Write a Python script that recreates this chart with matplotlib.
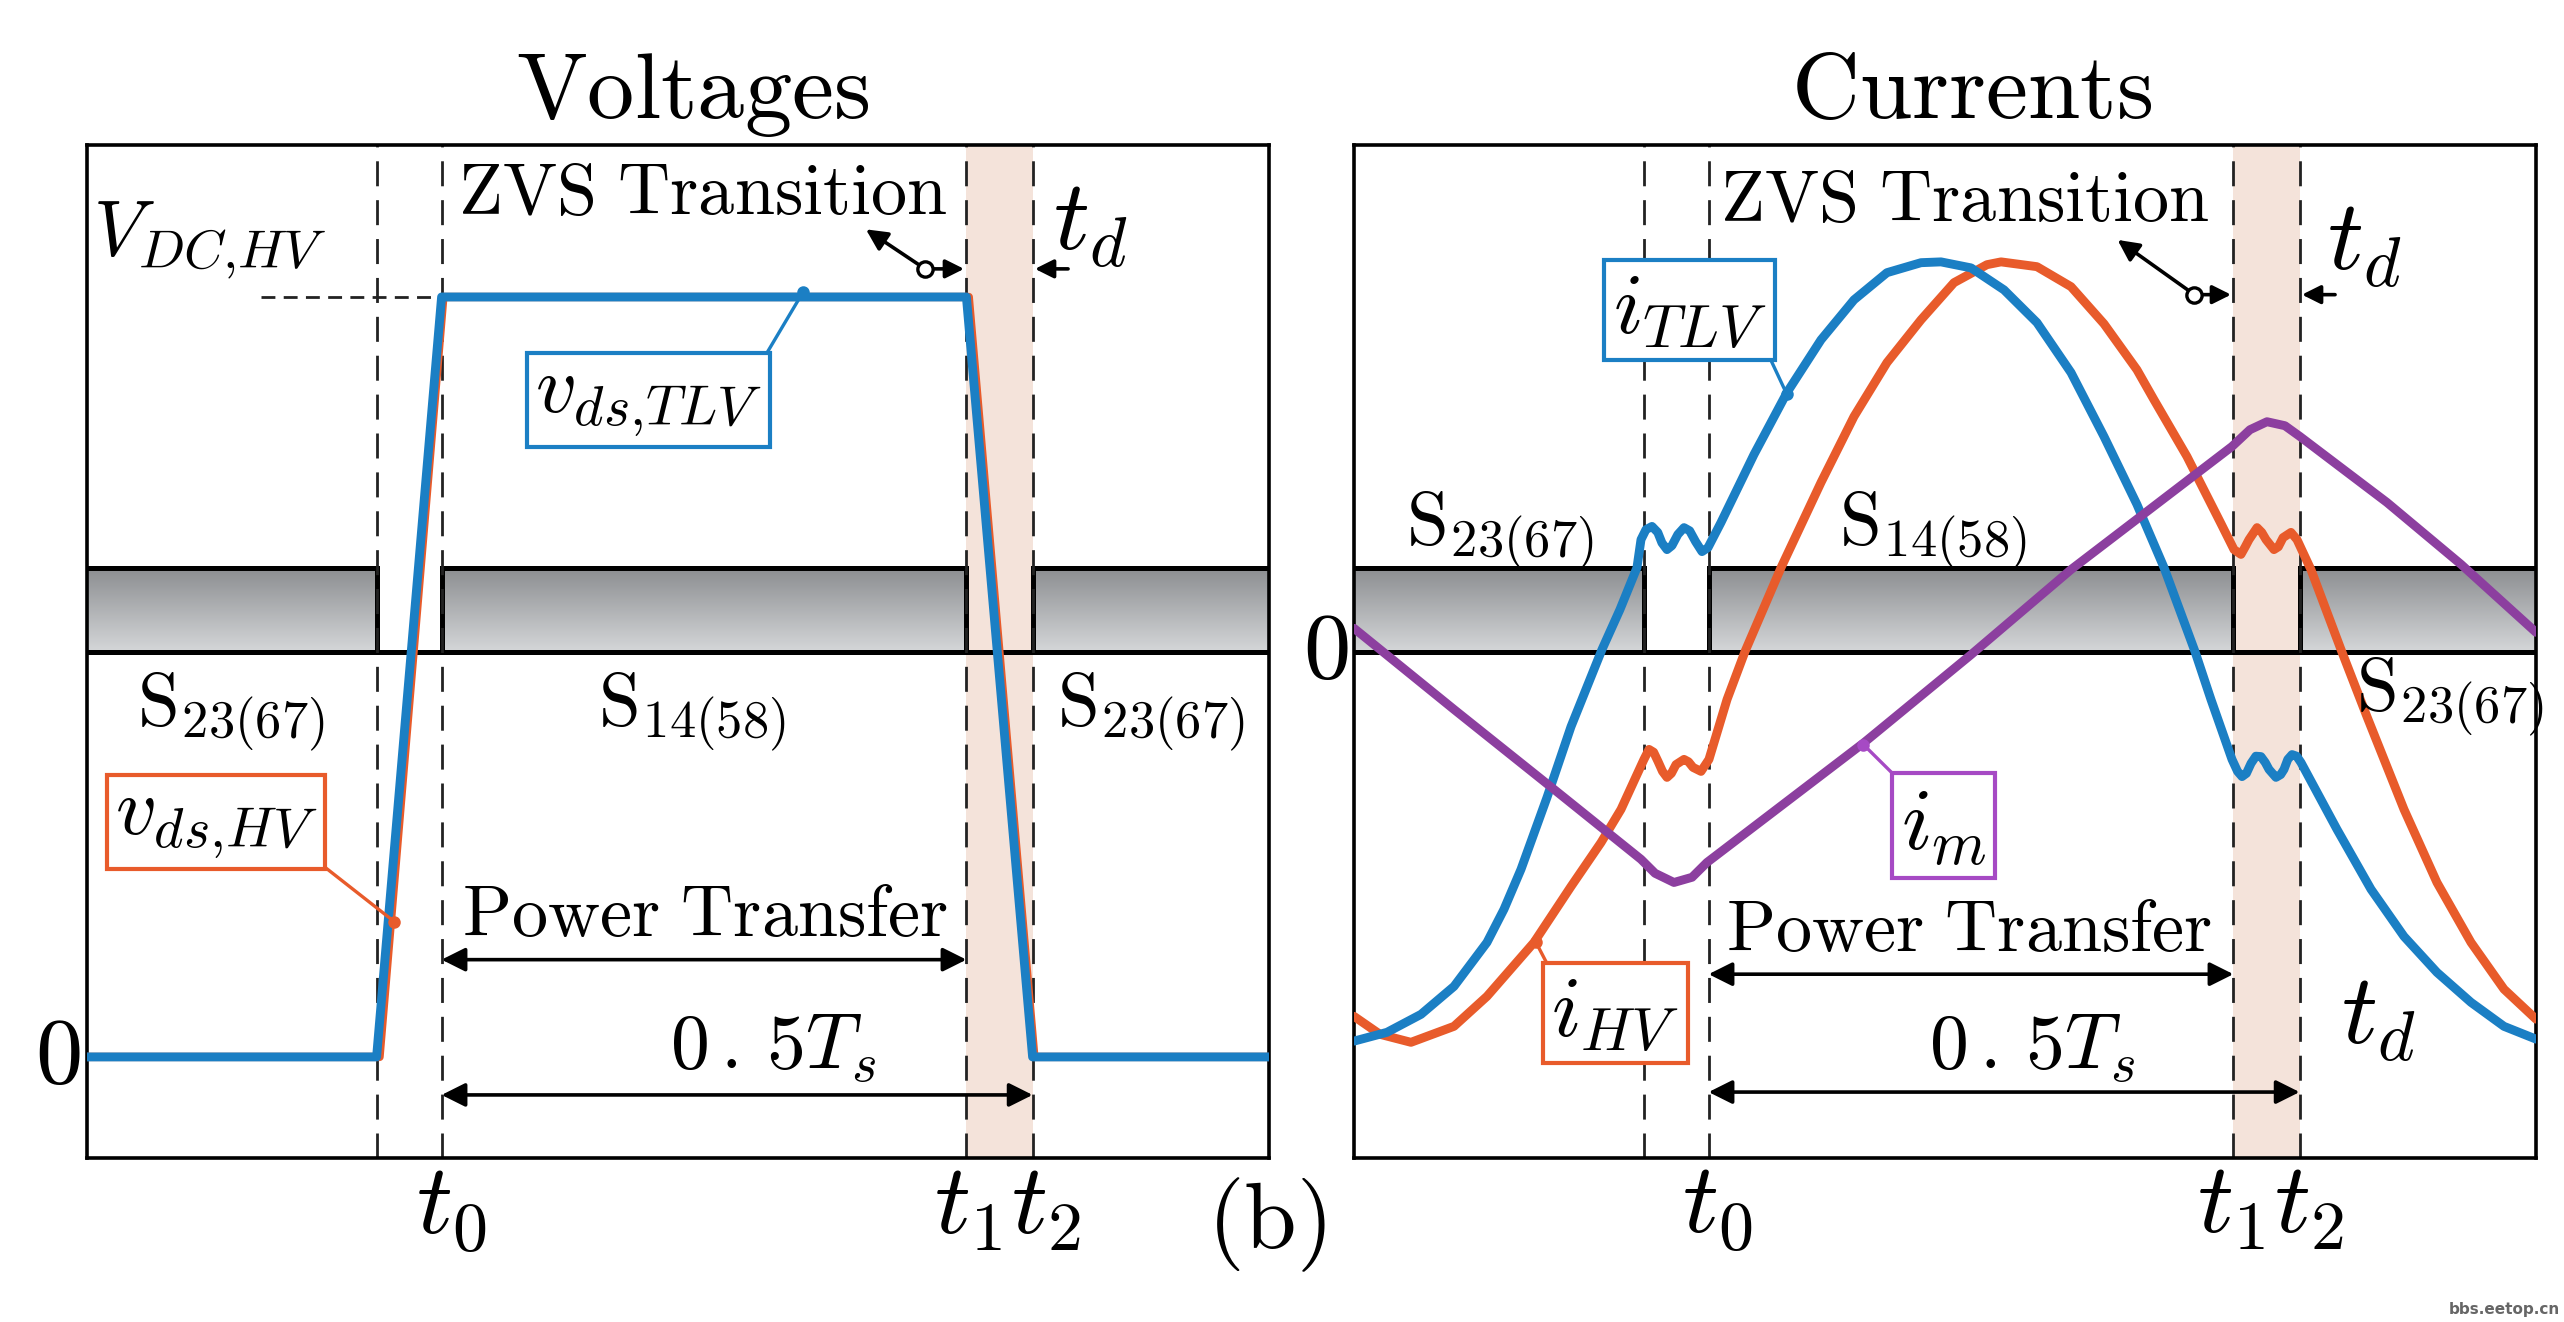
import numpy as np
import matplotlib
matplotlib.use('Agg')
import matplotlib.pyplot as plt
from matplotlib.colors import LinearSegmentedColormap

plt.rcParams['mathtext.fontset'] = 'cm'
plt.rcParams['font.family'] = ['DejaVu Sans']

# ---------------- data (time in % of the shown window) ----------------
t_edges = [24.5, 30.0, 74.4, 80.0]          # end of S23 on, t0, t1, t2
gate_on = [(0.0, 24.5), (30.0, 74.4), (80.0, 100.0)]

# voltages (p.u. of V_DC,HV)
v_dc = 1.0
v_tlv_t = [0, 24.5, 30.0, 74.4, 80.0, 100]
v_tlv = [0, 0, 1, 1, 0, 0]
v_hv_t = [0, 24.75, 30.15, 74.6, 80.15, 100]
v_hv = [0, 0, 1, 1, 0, 0]

# currents (p.u.)
i_tlv_t = [0, 2.79, 5.67, 8.46, 11.25, 12.69, 14.13, 16.33, 18.36, 20.98, 22.50,
           23.94, 24.28, 24.70, 25.21, 25.70, 26.05, 26.48, 26.90, 27.40, 27.92,
           28.40, 28.90, 29.44, 29.95, 31.05, 33.84, 36.63, 39.51, 42.30, 45.09,
           47.97, 49.66, 52.20, 54.99, 57.78, 60.66, 63.45, 66.24, 68.53, 71.15,
           72.50, 74.28, 74.75, 75.13, 75.50, 75.89, 76.30, 76.73, 77.10, 77.41,
           78.00, 78.40, 78.68, 79.00, 79.36, 79.75, 80.12, 83.16, 86.04, 88.83,
           91.62, 94.50, 97.29, 100]
i_tlv = [-0.975, -0.953, -0.908, -0.838, -0.728, -0.645, -0.545, -0.365, -0.188, 0.005, 0.105,
         0.21, 0.28, 0.305, 0.313, 0.298, 0.272, 0.255, 0.265, 0.293, 0.31,
         0.302, 0.275, 0.25, 0.26, 0.323, 0.493, 0.648, 0.78, 0.88, 0.948,
         0.973, 0.975, 0.96, 0.905, 0.823, 0.698, 0.538, 0.368, 0.21, 0.0,
         -0.12, -0.27, -0.30, -0.313, -0.305, -0.28, -0.262, -0.263, -0.278, -0.295,
         -0.315, -0.308, -0.295, -0.270, -0.258, -0.262, -0.278, -0.445, -0.595, -0.713,
         -0.803, -0.878, -0.938, -0.97]

i_hv_t = [0, 2.20, 4.82, 8.46, 11.25, 15.23, 18.36, 20.90, 22.59, 24.53, 24.96,
          25.35, 25.72, 26.10, 26.48, 26.85, 27.24, 27.92, 28.30, 28.68, 29.36,
          30.03, 31.56, 33.08, 36.13, 39.51, 42.30, 45.09, 47.97, 50.76, 53.55,
          54.74, 57.78, 60.66, 63.45, 66.24, 67.68, 70.47, 73.35, 74.45, 75.04,
          75.40, 75.72, 76.40, 76.80, 77.16, 77.83, 78.20, 78.60, 79.27, 79.78,
          80.96, 83.50, 85.70, 88.83, 91.62, 94.50, 97.29, 100]
i_hv = [-0.913, -0.958, -0.978, -0.938, -0.863, -0.728, -0.588, -0.478, -0.395, -0.27, -0.245,
        -0.252, -0.275, -0.300, -0.315, -0.305, -0.283, -0.27, -0.276, -0.29, -0.30,
        -0.27, -0.12, 0.0, 0.21, 0.423, 0.588, 0.723, 0.83, 0.923, 0.968,
        0.975, 0.963, 0.913, 0.82, 0.705, 0.63, 0.488, 0.32, 0.255, 0.243,
        0.262, 0.28, 0.31, 0.298, 0.28, 0.255, 0.262, 0.285, 0.298, 0.28,
        0.205, 0.005, -0.163, -0.395, -0.578, -0.728, -0.845, -0.92]

i_m_t = [0, 8.46, 16.92, 24.28, 25.47, 27.07, 28.60, 29.86, 43.15, 52.20, 60.66,
         74.28, 75.80, 77.24, 78.76, 80.03, 87.39, 93.66, 100]
i_m = [0.058, -0.145, -0.345, -0.52, -0.555, -0.578, -0.565, -0.528, -0.228, -0.008, 0.205,
       0.513, 0.555, 0.575, 0.565, 0.538, 0.373, 0.218, 0.048]

# ---------------- styling ----------------
W, H, DPI = 2564, 1322, 200
BLUE = '#1b7fc4'
RED = '#e85b2b'
PURPLE = '#8c3f9f'
BAND = '#f4e3da'
gray_cmap = LinearSegmentedColormap.from_list('g', ['#d4d6d8', '#8b8d90'])

fig = plt.figure(figsize=(W / DPI, H / DPI), dpi=DPI)
fig.patch.set_facecolor('white')
axL = fig.add_axes([87 / W, 1 - 1158 / H, 1182 / W, 1013 / H])
axR = fig.add_axes([1354 / W, 1 - 1158 / H, 1182 / W, 1013 / H])

LIM_L = (-0.133, 1.2)
LIM_R = (-1.2675, 1.2675)


def base(ax, ylim):
    ax.set_xticks([])
    ax.set_yticks([])
    for s in ax.spines.values():
        s.set_linewidth(1.3)
        s.set_color('black')
    ax.axvspan(t_edges[2], t_edges[3], color=BAND, zorder=0, lw=0)
    lo = ylim[0] + 0.5 * (ylim[1] - ylim[0])
    hi = ylim[0] + 0.5824 * (ylim[1] - ylim[0])
    grad = np.linspace(0, 1, 256).reshape(-1, 1)
    xs, ys = [], []
    for a, b in gate_on:
        ax.imshow(grad, extent=[a, b, lo, hi], origin='lower', aspect='auto',
                  cmap=gray_cmap, zorder=1, interpolation='bilinear')
        if a > 0:
            xs += [a, a]
            ys += [lo, hi]
        else:
            xs.append(a)
            ys.append(hi)
        xs.append(b)
        ys.append(hi)
        if b < 100:
            xs.append(b)
            ys.append(lo)
    ax.plot(xs, ys, color='black', lw=1.8, zorder=2, solid_joinstyle='miter')
    ax.plot([0, 100], [lo, lo], color='black', lw=1.8, zorder=2)
    for t in t_edges:
        ax.axvline(t, color='#222222', lw=1.0, ls=(0, (9, 5)), zorder=2.5)


base(axL, LIM_L)
base(axR, LIM_R)

# ---------------- voltages ----------------
axL.plot(v_hv_t, v_hv, color=RED, lw=3.0, zorder=3)
axL.plot(v_tlv_t, v_tlv, color=BLUE, lw=3.2, zorder=4)
axL.plot([14.7, t_edges[1]], [v_dc, v_dc], color='#222222', lw=1.0, ls=(0, (5, 3)), zorder=2)

# ---------------- currents ----------------
kw = dict(lw=3.2, solid_capstyle='round', solid_joinstyle='round')
axR.plot(i_hv_t, i_hv, color=RED, zorder=3, **kw)
axR.plot(i_tlv_t, i_tlv, color=BLUE, zorder=4, **kw)
axR.plot(i_m_t, i_m, color=PURPLE, zorder=5, **kw)


# ---------------- annotations ----------------
def dbl_arrow(ax, x0, x1, y):
    ax.annotate('', xy=(x1, y), xytext=(x0, y),
                arrowprops=dict(arrowstyle='<|-|>', color='black', lw=1.3,
                                shrinkA=0, shrinkB=0, mutation_scale=18), zorder=6)


def zvs(ax, head, circ, ytxt, xtxt, td_y):
    ax.text(xtxt, ytxt, r'$\mathrm{ZVS\ Transition}$', fontsize=26, ha='center', va='baseline', zorder=7)
    ax.annotate('', xy=head, xytext=circ,
                arrowprops=dict(arrowstyle='-|>', color='black', lw=1.3,
                                shrinkA=3, shrinkB=0, mutation_scale=16), zorder=6)
    ax.plot(*circ, 'o', ms=5.5, mfc='white', mec='black', mew=1.2, zorder=7)
    ax.annotate('', xy=(t_edges[2] - 0.2, td_y), xytext=(circ[0] + 0.5, td_y),
                arrowprops=dict(arrowstyle='-|>', color='black', lw=1.3,
                                shrinkA=0, shrinkB=0, mutation_scale=14), zorder=6)
    ax.annotate('', xy=(t_edges[3] + 0.2, td_y), xytext=(t_edges[3] + 3.0, td_y),
                arrowprops=dict(arrowstyle='-|>', color='black', lw=1.3,
                                shrinkA=0, shrinkB=0, mutation_scale=14), zorder=6)


def box_label(ax, txt, xy, xytext, color, relpos, fs=32):
    ax.annotate(txt, xy=xy, xytext=xytext, fontsize=fs, ha='center', va='center',
                bbox=dict(boxstyle='square,pad=0.1', fc='white', ec=color, lw=1.5),
                arrowprops=dict(arrowstyle='-', color=color, lw=1.2, relpos=relpos,
                                shrinkA=0, shrinkB=0), zorder=8)
    ax.plot(*xy, 'o', color=color, ms=3.5, zorder=8)


# left panel texts
axL.text(10.4, 1.075, r'$V_{DC{,}HV}$', fontsize=28, ha='center', va='center')
zvs(axL, (65.9, 1.089), (70.9, 1.037), 1.109, 52.1, 1.037)
axL.text(81.7, 1.062, r'$t_d$', fontsize=36, ha='left', va='baseline')
box_label(axL, r'$v_{ds{,}TLV}$', (60.6, 1.007), (47.5, 0.864), BLUE, (1, 1), fs=29)
box_label(axL, r'$v_{ds{,}HV}$', (26.0, 0.178), (10.9, 0.309), RED, (1, 0), fs=29)
for x, s in zip([12.2, 51.2, 90.0], [r'$\mathrm{S}_{23(67)}$', r'$\mathrm{S}_{14(58)}$', r'$\mathrm{S}_{23(67)}$']):
    axL.text(x, 0.436, s, fontsize=27, ha='center', va='baseline', zorder=7)
axL.text(52.3, 0.159, r'$\mathrm{Power\ Transfer}$', fontsize=26, ha='center', va='baseline', zorder=7)
dbl_arrow(axL, t_edges[1], t_edges[2], 0.128)
axL.text(58.0, 0.013, r'$0\/.\/5T_s$', fontsize=28, ha='center', va='center', zorder=7)
dbl_arrow(axL, t_edges[1], t_edges[3], -0.05)
axL.text(-2.45, 0.0, r'$0$', fontsize=34, ha='center', va='center', clip_on=False)
axL.text(30.8, -0.233, r'$t_0$', fontsize=36, ha='center', va='baseline', clip_on=False)
axL.text(77.9, -0.233, r'$t_1t_2$', fontsize=36, ha='center', va='baseline', clip_on=False)

# right panel texts
zvs(axR, (64.6, 1.03), (71.1, 0.893), 1.0775, 51.7, 0.893)
axR.text(82.3, 0.955, r'$t_d$', fontsize=36, ha='left', va='baseline')
axR.text(83.5, -0.983, r'$t_d$', fontsize=36, ha='left', va='baseline')
box_label(axR, r'$i_{TLV}$', (36.6, 0.645), (28.4, 0.855), BLUE, (1, 0), fs=31)
box_label(axR, r'$i_{HV}$', (15.4, -0.728), (22.1, -0.905), RED, (0, 1), fs=31)
box_label(axR, r'$i_{m}$', (43.1, -0.233), (49.9, -0.435), '#a64ac4', (0, 1), fs=32)
axR.text(12.3, 0.268, r'$\mathrm{S}_{23(67)}$', fontsize=27, ha='center', va='baseline', zorder=7)
axR.text(49.0, 0.268, r'$\mathrm{S}_{14(58)}$', fontsize=27, ha='center', va='baseline', zorder=7)
axR.text(92.7, -0.148, r'$\mathrm{S}_{23(67)}$', fontsize=27, ha='center', va='baseline', zorder=7)
axR.text(52.0, -0.75, r'$\mathrm{Power\ Transfer}$', fontsize=26, ha='center', va='baseline', zorder=7)
dbl_arrow(axR, t_edges[1], t_edges[2], -0.8075)
axR.text(57.4, -0.99, r'$0\/.\/5T_s$', fontsize=28, ha='center', va='center', zorder=7)
dbl_arrow(axR, t_edges[1], t_edges[3], -1.1025)
axR.text(-2.4, 0.0, r'$0$', fontsize=34, ha='center', va='center', clip_on=False)
axR.text(30.7, -1.455, r'$t_0$', fontsize=36, ha='center', va='baseline', clip_on=False)
axR.text(77.5, -1.455, r'$t_1t_2$', fontsize=36, ha='center', va='baseline', clip_on=False)

# titles and panel tag
fig.text(0.270, 1 - 118 / H, r'$\mathrm{Voltages}$', fontsize=34, ha='center', va='baseline')
fig.text(0.769, 1 - 118 / H, r'$\mathrm{Currents}$', fontsize=34, ha='center', va='baseline')
fig.text(0.494, 0.0734, r'$(\mathrm{b})$', fontsize=34, ha='center', va='center')
fig.text(0.9985, 0.004, 'bbs.eetop.cn', fontsize=5.5, color='#666666', weight='bold',
         ha='right', va='bottom')

for ax, lim in ((axL, LIM_L), (axR, LIM_R)):
    ax.set_xlim(0, 100)
    ax.set_ylim(*lim)

fig.savefig('out.png', dpi=DPI, facecolor='white')
